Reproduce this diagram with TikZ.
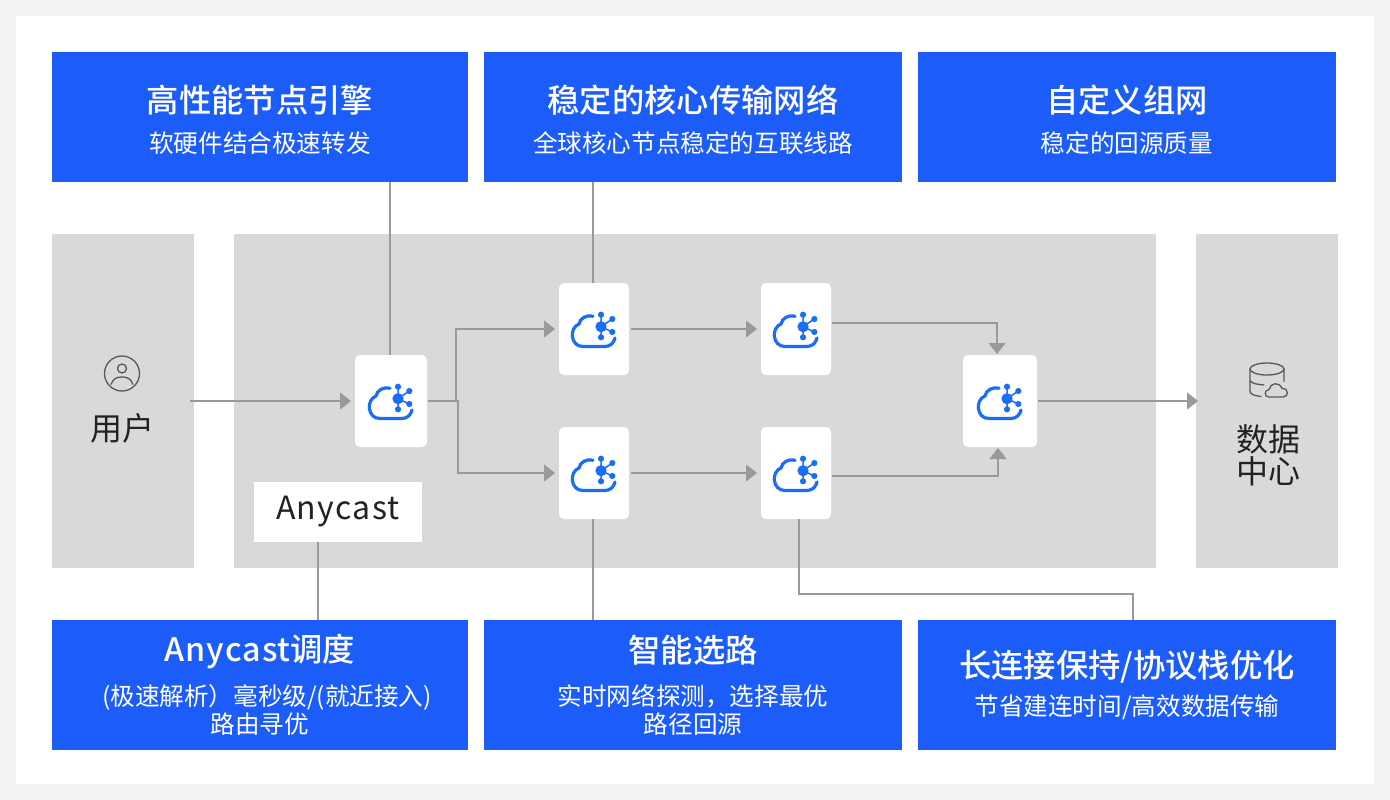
\documentclass[tikz,border=0pt]{standalone}
\usepackage{fontspec}
\setmainfont{Noto Sans CJK SC}
\newfontfamily\mediumcjk[UprightFont={* Medium}]{Noto Sans CJK SC}
\newfontfamily\widelatin[LetterSpace=4]{Noto Sans CJK SC}
\newfontfamily\widemedium[UprightFont={* Medium}, LetterSpace=3]{Noto Sans CJK SC}
\usepackage{xcolor}
\definecolor{nbblue}{RGB}{28,92,248}
\definecolor{nbicon}{RGB}{26,110,246}
\definecolor{nbgrey}{RGB}{217,217,217}
\definecolor{nbpage}{RGB}{243,243,243}
\definecolor{nbline}{RGB}{153,153,153}
\definecolor{nbdark}{RGB}{34,34,34}
\definecolor{nbstroke}{RGB}{88,88,88}
\usepackage{tikz}
\usetikzlibrary{arrows.meta, positioning}
\newcommand{\titlesize}{\mediumcjk\fontsize{32.3}{36}\selectfont}
\newcommand{\toppad}{\rule{0pt}{33pt}}

\tikzset{
  cloudhub/.pic={
    \draw[nbicon, line width=3.2pt, line cap=round] (-1,-12.7) .. controls (-8,-14.5) and (-14,-10.5) .. (-15,-5)
      .. controls (-20,-3) and (-22,2) .. (-21.7,7) .. controls (-21,13.5) and (-17,17.5) .. (-11,17.5)
      -- (11,17.5) .. controls (16,17.5) and (20,14) .. (21,9);
    \fill[nbicon] (7,-2.3) circle (5.6);
    \draw[nbicon, line width=1.5pt] (7,-14.3) -- (7,8.3) (7,-2.3) -- (18.3,-10) (7,-2.3) -- (18.3,3);
    \foreach \dotx/\doty in {7/-14.3, 18.3/-10, 18.3/3, 7/8.3}
      \fill[nbicon] (\dotx,\doty) circle (3.1);
  },
  personmark/.pic={
    \draw[nbstroke, line width=1.3pt] (0,0) circle (17.5) (0,-5) circle (4.5);
    \draw[nbstroke, line width=1.3pt] (-11,11) .. controls (-9,5) and (-5,3.5) .. (0,3.5)
      .. controls (5,3.5) and (9,5) .. (11,11);
  },
  storemark/.pic={
    \draw[nbstroke, line width=1.3pt] (0,0) ellipse (17 and 6);
    \draw[nbstroke, line width=1.3pt, line cap=round] (-17,0) -- (-17,23) .. controls (-16,26) and (-10,27) .. (-6,27.5)
      (17,0) -- (17,12.5) (-17,11.5) .. controls (-15,15) and (-8,15.5) .. (-3,16);
    \draw[nbstroke, line width=1.3pt] (2,28) .. controls (-3,28) and (-3,21) .. (2,20.5)
      .. controls (3,14) and (12,12) .. (15,19.5) .. controls (22,19) and (22,28) .. (16,28) -- cycle;
  }
}

\begin{document}
\begin{tikzpicture}[
  x=1pt, y=-1pt,
  every node/.style={inner sep=0pt, outer sep=0pt},
  bluebox/.style={fill=nbblue, text=white, minimum width=418pt, minimum height=130pt, align=center,
    font=\fontsize{24.6}{28}\selectfont},
  greybox/.style={fill=nbgrey, minimum height=334pt},
  cardbox/.style={fill=white, rounded corners=5pt, minimum width=70pt, minimum height=92pt},
  sidelabel/.style={text=nbdark, align=center, font=\fontsize{32}{32}\selectfont},
  flowline/.style={draw=nbline, line width=1.1pt},
  flowarrow/.style={flowline, -{Triangle[length=11pt, width=17pt]}, shorten >=4pt}
]
  \useasboundingbox (0,0) rectangle (1390,800);
  \fill[nbpage] (0,0) rectangle (1390,800);
  \fill[white] (16,16) rectangle (1374,784);

  % grey bands
  \node[greybox, minimum width=142pt] (bandleft) at (123,401) {};
  \node[greybox, minimum width=922pt] (bandmid) at (695,401) {};
  \node[greybox, minimum width=142pt] (bandright) at (1267,401) {};

  % top row
  \node[bluebox, minimum width=416pt] (boxengine) at (260,117) {\titlesize\toppad 高性能节点引擎\\[12pt]软硬件结合极速转发};
  \node[bluebox, right=16pt of boxengine] (boxcore) {\titlesize\toppad 稳定的核心传输网络\\[12pt]全球核心节点稳定的互联线路};
  \node[bluebox, right=16pt of boxcore] (boxmesh) {\titlesize\toppad 自定义组网\\[12pt]稳定的回源质量};

  % bottom row
  \node[bluebox, minimum width=416pt] (boxanycast) at (260,685) {{\widemedium\fontsize{32.3}{36}\selectfont Anycast}\titlesize 调度\\[15pt]\hspace*{14pt}(极速解析）毫秒级/(就近接入)\\路由寻优};
  \node[bluebox, right=16pt of boxanycast] (boxroute) {\titlesize 智能选路\\[15pt]实时网络探测，选择最优\\路径回源};
  \node[bluebox, right=16pt of boxroute] (boxlink) {\titlesize 长连接保持/协议栈优化\\[10pt]节省建连时间/高效数据传输};

  % cards
  \node[cardbox, minimum width=72pt] (cardin) at (391,401) {};
  \node[cardbox] (cardupa) at (594,329) {};
  \node[cardbox] (cardupb) at (796,329) {};
  \node[cardbox] (cardlowa) at (594,473) {};
  \node[cardbox] (cardlowb) at (796,473) {};
  \node[cardbox, minimum width=74pt] (cardout) at (1000,401) {};
  \foreach \cardname in {cardin, cardupa, cardupb, cardlowa, cardlowb, cardout}
    \pic at (\cardname) {cloudhub};

  \node[fill=white, minimum width=168pt, minimum height=60pt, text=nbdark, font=\widelatin\fontsize{32}{36}\selectfont] (tagany) at (338,512) {Anycast};

  % end labels
  \pic at (122,373.5) {personmark};
  \node[sidelabel] (labeluser) at (122,428) {用户};
  \pic at (1267,369) {storemark};
  \node[sidelabel] (labeldata) at (1268,455) {数据\\中心};

  % callout lines
  \draw[flowline] ([xshift=-1pt]cardin.north) -- ([xshift=-1pt]cardin.north |- boxengine.south);
  \draw[flowline] ([xshift=-1pt]cardupa.north) -- ([xshift=-1pt]cardupa.north |- boxcore.south);
  \draw[flowline] ([xshift=-20pt]tagany.south) -- ([xshift=-20pt]tagany.south |- boxanycast.north);
  \draw[flowline] ([xshift=-1pt]cardlowa.south) -- ([xshift=-1pt]cardlowa.south |- boxroute.north);
  \coordinate (linkturn) at ([xshift=6pt, yshift=26pt]boxlink.north);
  \draw[flowline] ([xshift=3pt]cardlowb.south) |- (linkturn) -- ([xshift=6pt]boxlink.north);

  % flow arrows
  \coordinate (userout) at (190,401);
  \coordinate (dataend) at (1202,401);
  \draw[flowarrow] (userout) -- (cardin.west);
  \draw[flowarrow] ([xshift=1pt]cardin.east) -- ++(28,0) |- (cardupa.west);
  \draw[flowarrow] ([xshift=1pt]cardin.east) -- ++(30,0) |- (cardlowa.west);
  \draw[flowarrow] ([xshift=2pt]cardupa.east) -- (cardupb.west);
  \draw[flowarrow] ([xshift=2pt]cardlowa.east) -- (cardlowb.west);
  \draw[flowarrow, shorten >=1pt] ([xshift=1pt, yshift=6pt]cardupb.east) -| ([xshift=-3pt]cardout.north);
  \draw[flowarrow, shorten >=1pt] ([xshift=1pt, yshift=-3pt]cardlowb.east) -| ([xshift=-2pt]cardout.south);
  \draw[flowarrow] ([xshift=1pt]cardout.east) -- (dataend);
\end{tikzpicture}
\end{document}
